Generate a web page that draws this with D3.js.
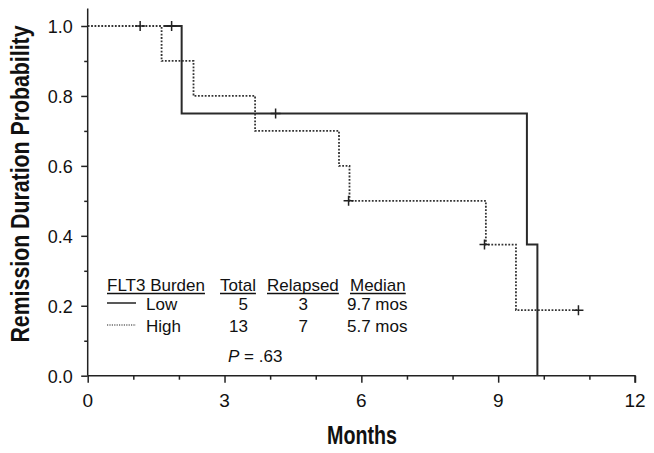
<!DOCTYPE html>
<html>
<head>
<meta charset="utf-8">
<script src="https://cdn.jsdelivr.net/npm/d3@7"></script>
<style>
  html, body { margin: 0; padding: 0; background: #fff; }
  svg { display: block; }
  text { font-family: "Liberation Sans", Arial, sans-serif; fill: #111; }
</style>
</head>
<body>
<svg id="chart" width="654" height="453"></svg>
<script>
// ---- data ----
const lowTimes = [0, 2.06, 9.63, 9.86];
const lowSurv  = [1.0, 0.75, 0.375, 0.0];
const highTimes = [0, 1.62, 2.32, 3.67, 5.51, 5.74, 8.73, 9.39, 10.76];
const highSurv  = [1.0, 0.9, 0.8, 0.7, 0.6, 0.5, 0.375, 0.1875, 0.1875];
const lowCensorTimes = [1.84, 4.12];
const lowCensorSurv  = [1.0, 0.75];
const highCensorTimes = [1.15, 5.72, 8.70, 10.76];
const highCensorSurv  = [1.0, 0.5, 0.375, 0.1875];
const xTickValues = [0, 3, 6, 9, 12];
const yTickValues = [0, 0.2, 0.4, 0.6, 0.8, 1.0];
const legendHeaders = ["FLT3 Burden", "Total", "Relapsed", "Median"];
const groups = ["Low", "High"];
const totals = ["5", "13"];
const relapsed = ["3", "7"];
const medians = ["9.7 mos", "5.7 mos"];
const pValue = ".63";

// ---- layout ----
const svg = d3.select("#chart");
const x = d3.scaleLinear().domain([0, 12]).range([87.7, 635]);
const y = d3.scaleLinear().domain([0, 1]).range([375.7, 26]);
const ink = "#222";

// axes
const gx = svg.append("g").attr("transform", `translate(0,${y(0)})`);
gx.call(d3.axisBottom(x).tickValues(d3.range(0, 13, 1)).tickSize(4).tickFormat(""));
gx.selectAll(".tick line").filter(d => d % 3 === 0).attr("y2", 7);
gx.select(".domain").attr("d", `M${x(0)},0H${x(12)}V7`);
gx.selectAll("path, line").attr("stroke", ink).attr("stroke-width", 1.5);
xTickValues.forEach(v => {
  gx.append("text").attr("x", x(v)).attr("y", 31.5).attr("text-anchor", "middle")
    .style("font-size", "19px").text(v);
});

const gy = svg.append("g").attr("transform", `translate(${x(0)},0)`);
gy.call(d3.axisLeft(y).tickValues(d3.range(0, 11).map(i => i / 10)).tickSize(3.5).tickFormat(""));
gy.selectAll(".tick line").filter((d, i) => i % 2 === 0).attr("x2", -6.5);
gy.select(".domain").attr("d", `M0,${y(1.05)}V${y(0)}`);
gy.selectAll("path, line").attr("stroke", ink).attr("stroke-width", 1.5);
yTickValues.forEach(v => {
  gy.append("text").attr("x", -15).attr("y", y(v)).attr("dy", "0.36em").attr("text-anchor", "end")
    .style("font-size", "19px").attr("textLength", 25).attr("lengthAdjust", "spacingAndGlyphs")
    .text(v.toFixed(1));
});

// axis titles (condensed bold look via vertical stretch)
svg.append("text").attr("transform", "translate(362,444) scale(1,1.3)").attr("text-anchor", "middle")
  .style("font-size", "19.7px").style("font-weight", "bold").text("Months");
svg.append("text").attr("transform", "translate(29,184) rotate(-90) scale(1,1.22)").attr("text-anchor", "middle")
  .style("font-size", "21.3px").style("font-weight", "bold").text("Remission Duration Probability");

// curves
const line = d3.line().x(d => x(d[0])).y(d => y(d[1])).curve(d3.curveStepAfter);
const lowPts = lowTimes.map((t, i) => [t, lowSurv[i]]);
const highPts = highTimes.map((t, i) => [t, highSurv[i]]);

svg.append("path").attr("d", line(lowPts)).attr("fill", "none")
  .attr("stroke", "#2a2a2a").attr("stroke-width", 2);

// white underlay where high overlaps low at start
svg.append("clipPath").attr("id", "startClip").append("rect")
  .attr("x", x(0) + 1).attr("y", 0).attr("width", x(1.62) - x(0) + 1).attr("height", 453);
svg.append("path").attr("d", line(highPts)).attr("fill", "none")
  .attr("stroke", "#fff").attr("stroke-width", 4).attr("clip-path", "url(#startClip)");

svg.append("path").attr("d", line(highPts)).attr("fill", "none")
  .attr("stroke", "#333").attr("stroke-width", 1.8).attr("stroke-dasharray", "1.8,1.6");

// censor marks
function censor(times, surv) {
  times.forEach((t, i) => {
    const cx = x(t), cy = y(surv[i]);
    svg.append("path").attr("d", `M${cx - 5},${cy}H${cx + 5}M${cx},${cy - 5}V${cy + 5}`)
      .attr("stroke", "#222").attr("stroke-width", 1.5).attr("fill", "none");
  });
}
censor(lowCensorTimes, lowCensorSurv);
censor(highCensorTimes, highCensorSurv);

// legend
const lg = svg.append("g").style("font-size", "17px");
const headerX = [107, 220, 267, 350];
legendHeaders.forEach((h, i) => {
  const t = lg.append("text").attr("x", headerX[i]).attr("y", 291).text(h);
  const w = t.node().getComputedTextLength();
  lg.append("line").attr("x1", headerX[i]).attr("x2", headerX[i] + w)
    .attr("y1", 293.5).attr("y2", 293.5).attr("stroke", "#111").attr("stroke-width", 1.3);
});
const rowY = [310, 332];
groups.forEach((g, i) => {
  lg.append("line").attr("x1", 107).attr("x2", 136).attr("y1", rowY[i] - 7).attr("y2", rowY[i] - 7)
    .attr("stroke", "#222").attr("stroke-width", i === 0 ? 1.5 : 1.2)
    .attr("stroke-dasharray", i === 0 ? null : "1.2,1.2");
  lg.append("text").attr("x", 146).attr("y", rowY[i]).text(g);
  lg.append("text").attr("x", 248).attr("y", rowY[i]).attr("text-anchor", "end").text(totals[i]);
  lg.append("text").attr("x", 308).attr("y", rowY[i]).attr("text-anchor", "end").text(relapsed[i]);
  lg.append("text").attr("x", 347).attr("y", rowY[i]).text(medians[i]);
});
const pt = lg.append("text").attr("x", 228).attr("y", 362);
pt.append("tspan").style("font-style", "italic").text("P");
pt.append("tspan").text(" = " + pValue);
</script>
</body>
</html>
